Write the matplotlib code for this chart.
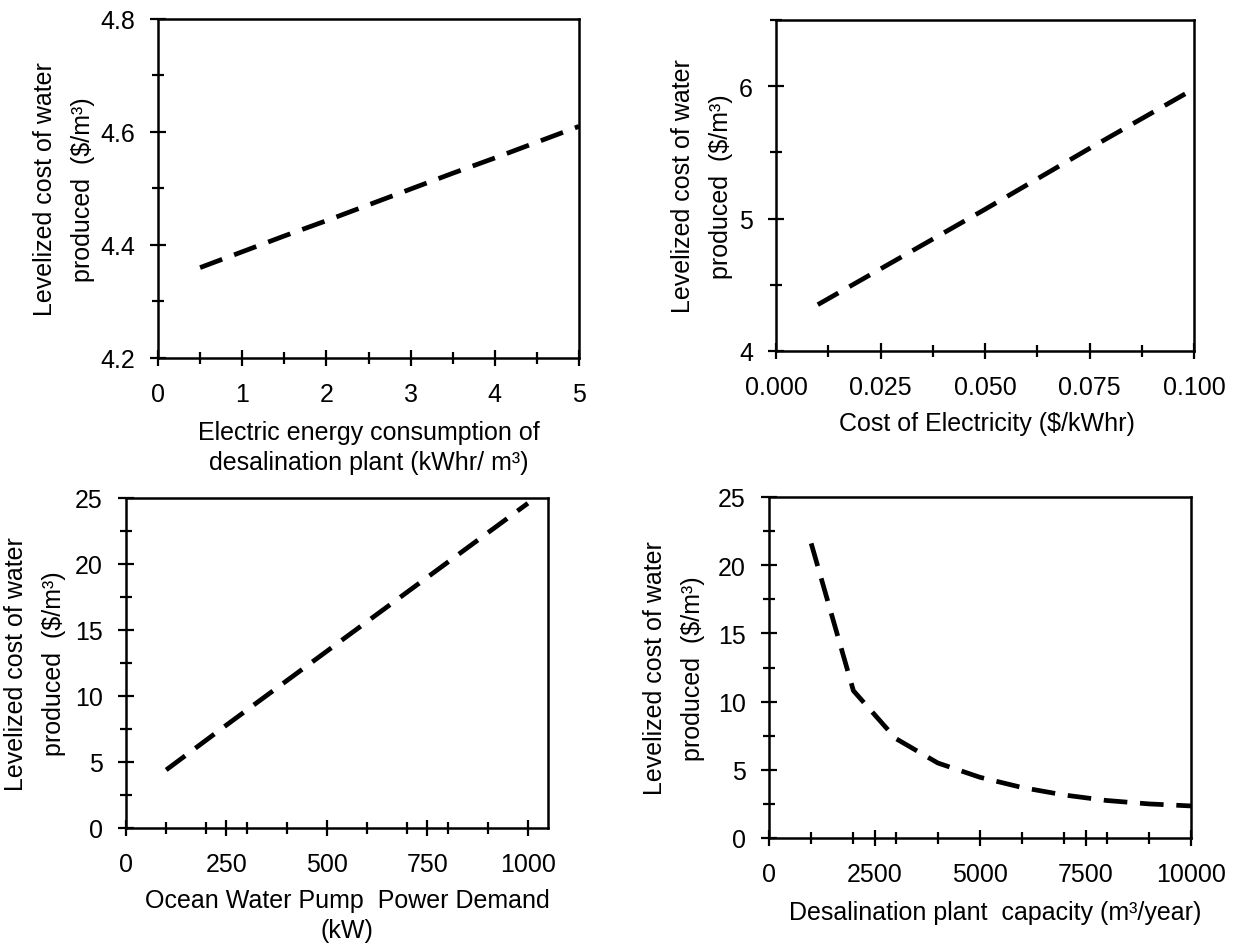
import matplotlib
matplotlib.use("Agg")
import matplotlib.pyplot as plt
from matplotlib.ticker import MultipleLocator, FormatStrFormatter

# ---- data ----
energy_x = [0.5, 1, 1.5, 2, 2.5, 3, 3.5, 4, 4.5, 5]
energy_y = [4.36, 4.388, 4.416, 4.443, 4.471, 4.499, 4.527, 4.554, 4.582, 4.61]

elec_x = [0.01, 0.025, 0.05, 0.075, 0.1]
elec_y = [4.35, 4.62, 5.07, 5.53, 5.98]

pump_x = [100, 250, 500, 750, 1000]
pump_y = [4.4, 7.8, 13.4, 19.0, 24.6]

cap_x = [1000, 2000, 3000, 4000, 5000, 6000, 7000, 8000, 9000, 10000]
cap_y = [21.6, 10.8, 7.3, 5.5, 4.45, 3.7, 3.15, 2.75, 2.5, 2.35]

ylabel_text = "Levelized cost of water\nproduced  ($/m³)"

plt.rcParams['font.family'] = ['Liberation Sans', 'DejaVu Sans']
FS = 18

fig = plt.figure(figsize=(12.35, 9.45), dpi=100)
W, H = 1235, 945

def make_ax(l, r, t, b):
    return fig.add_axes([l / W, 1 - b / H, (r - l) / W, (b - t) / H])

ax1 = make_ax(158, 579, 20, 359)
ax2 = make_ax(776, 1194, 21, 352)
ax3 = make_ax(126, 548, 499, 829)
ax4 = make_ax(769, 1191, 498, 839)

LS = (0, (5.0, 2.7))
LW = 3.4

def style(ax, xlim, ylim, xmaj, xmin, ymaj, ymin, xfmt, yfmt,
          ylab_x, xlabel, xlab_x, xlab_y):
    ax.set_xlim(*xlim)
    ax.set_ylim(*ylim)
    ax.xaxis.set_major_locator(MultipleLocator(xmaj))
    ax.xaxis.set_minor_locator(MultipleLocator(xmin))
    ax.yaxis.set_major_locator(MultipleLocator(ymaj))
    ax.yaxis.set_minor_locator(MultipleLocator(ymin))
    ax.xaxis.set_major_formatter(FormatStrFormatter(xfmt))
    ax.yaxis.set_major_formatter(FormatStrFormatter(yfmt))
    for s in ax.spines.values():
        s.set_linewidth(1.8)
        s.set_color('black')
    ax.tick_params(which='major', direction='inout', length=12, width=1.6,
                   labelsize=FS, colors='black')
    ax.tick_params(axis='x', which='major', pad=11.0)
    ax.tick_params(axis='y', which='major', pad=10.6)
    ax.tick_params(which='minor', direction='inout', length=8, width=1.6)
    ax.set_ylabel(ylabel_text, fontsize=FS, linespacing=1.75)
    ax.yaxis.set_label_coords(ylab_x, 0.5)
    ax.set_xlabel(xlabel, fontsize=FS, linespacing=1.3)
    ax.xaxis.set_label_coords(xlab_x, xlab_y)

ax1.plot(energy_x, energy_y, color='black', lw=LW, linestyle=LS)
style(ax1, (0, 5), (4.2, 4.8), 1, 0.5, 0.2, 0.1, '%g', '%.1f', -0.150,
      "Electric energy consumption of\ndesalination plant (kWhr/ m³)",
      0.5, -0.183)

ax2.plot(elec_x, elec_y, color='black', lw=LW, linestyle=LS)
style(ax2, (0, 0.1), (4, 6.5), 0.025, 0.0125, 1, 0.5, '%.3f', '%g', -0.103,
      "Cost of Electricity ($/kWhr)",
      0.5036, -0.182)

ax3.plot(pump_x, pump_y, color='black', lw=LW, linestyle=LS)
style(ax3, (0, 1050), (0, 25), 250, 100, 5, 2.5, '%g', '%g', -0.142,
      "Ocean Water Pump  Power Demand\n(kW)",
      0.5237, -0.183)

ax4.plot(cap_x, cap_y, color='black', lw=LW, linestyle=LS)
style(ax4, (0, 10000), (0, 25), 2500, 1000, 5, 2.5, '%g', '%g', -0.152,
      "Desalination plant  capacity (m³/year)",
      0.535, -0.183)

fig.savefig("out.png", dpi=100, facecolor='white')
